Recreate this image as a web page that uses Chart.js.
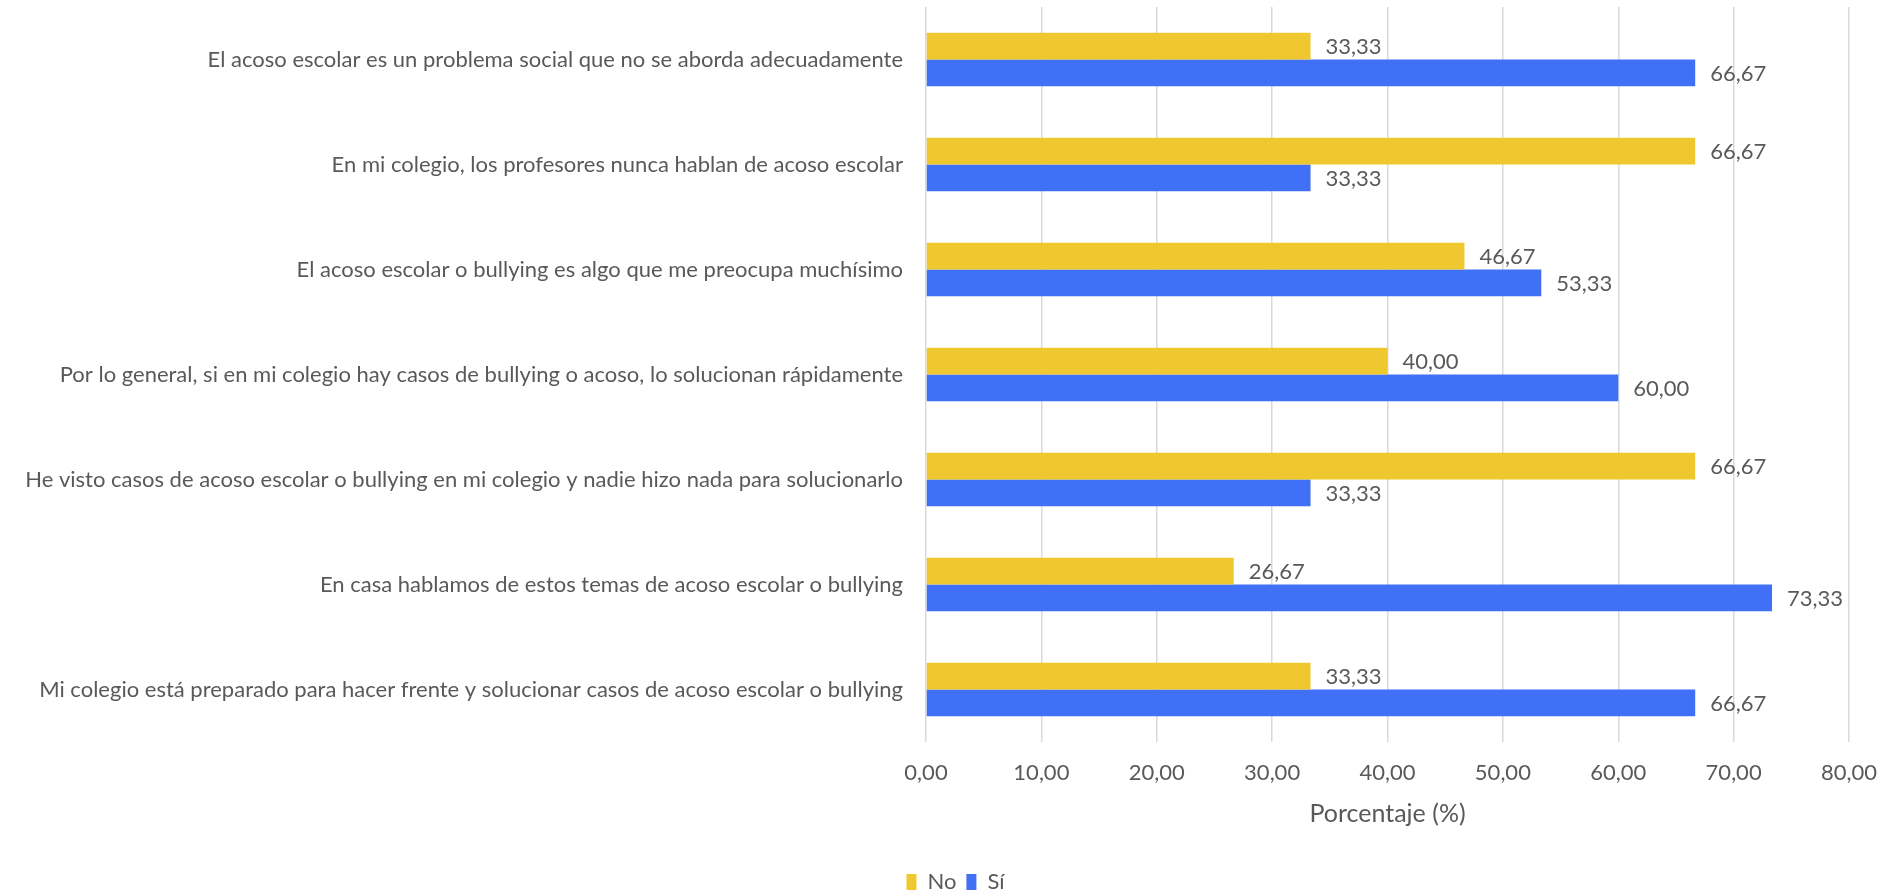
<!DOCTYPE html>
<html>
<head>
<meta charset="utf-8">
<script src="https://cdn.jsdelivr.net/npm/chart.js@4.4.0/dist/chart.umd.min.js"></script>
<style>
  html, body { margin: 0; padding: 0; background: #fff; }
  #wrap { width: 1891px; height: 894px; }
</style>
</head>
<body>
<div id="wrap"><canvas id="bullyChart"></canvas></div>
<script>
const categories = [
  'El acoso escolar es un problema social que no se aborda adecuadamente',
  'En mi colegio, los profesores nunca hablan de acoso escolar',
  'El acoso escolar o bullying es algo que me preocupa muchísimo',
  'Por lo general, si en mi colegio hay casos de bullying o acoso, lo solucionan rápidamente',
  'He visto casos de acoso escolar o bullying en mi colegio y nadie hizo nada para solucionarlo',
  'En casa hablamos de estos temas de acoso escolar o bullying',
  'Mi colegio está preparado para hacer frente y solucionar casos de acoso escolar o bullying'
];
const noValues = [33.33, 66.67, 46.67, 40.00, 66.67, 26.67, 33.33];
const siValues = [66.67, 33.33, 53.33, 60.00, 33.33, 73.33, 66.67];
const axisTitle = 'Porcentaje (%)';

const textColor = '#595959';
const fontFamily = 'Lato, "Open Sans", sans-serif';
const fmt = v => v.toFixed(2).replace('.', ',');

/* --- value labels at bar ends ------------------------------------------ */
const valueLabels = {
  id: 'valueLabels',
  afterDatasetsDraw(chart) {
    const c = chart.ctx;
    c.save();
    c.font = '22px ' + fontFamily;
    c.fillStyle = textColor;
    c.textBaseline = 'middle';
    c.textAlign = 'left';
    chart.data.datasets.forEach((ds, i) => {
      chart.getDatasetMeta(i).data.forEach((bar, j) => {
        c.fillText(fmt(ds.data[j]), bar.x + 15, bar.y + 1);
      });
    });
    c.restore();
  }
};

// the original legend sits a bit right of the canvas centre
const nudgeLegend = {
  id: 'nudgeLegend',
  afterLayout(chart) {
    chart.legend.left += 31;
    chart.legend.right += 31;
  }
};

Chart.defaults.font.family = fontFamily;
Chart.defaults.font.size = 22;
Chart.defaults.color = textColor;

new Chart(document.getElementById('bullyChart'), {
  type: 'bar',
  data: {
    labels: categories,
    datasets: [
      { label: 'No', data: noValues, backgroundColor: '#EFC830' },
      { label: 'Sí', data: siValues, backgroundColor: '#4070F5' }
    ]
  },
  options: {
    indexAxis: 'y',
    responsive: true,
    maintainAspectRatio: false,
    animation: false,
    categoryPercentage: 0.51,
    barPercentage: 1,
    layout: { padding: { left: 0, right: 42, top: 7, bottom: -9 } },
    scales: {
      x: {
        min: 0, max: 80,
        ticks: { stepSize: 10, padding: 18, maxRotation: 0, callback: v => fmt(v) },
        grid: { color: '#D9D9D9', lineWidth: 1.5, drawTicks: false },
        border: { display: false },
        title: { display: true, text: axisTitle, font: { size: 25 }, padding: { top: 0, bottom: 32 } },
        afterFit: s => { s.height = 119; s.paddingLeft = 0; s.paddingRight = 0; }
      },
      y: {
        grid: { display: false, drawTicks: false },
        border: { display: false },
        ticks: { padding: 23 },
        afterFit: s => { s.width = 926; s.paddingTop = 0; s.paddingBottom = 0; }
      }
    },
    plugins: {
      legend: {
        position: 'bottom',
        labels: { boxWidth: 10, boxHeight: 16, padding: 10 }
      },
      tooltip: { enabled: false }
    }
  },
  plugins: [valueLabels, nudgeLegend]
});
</script>
</body>
</html>
